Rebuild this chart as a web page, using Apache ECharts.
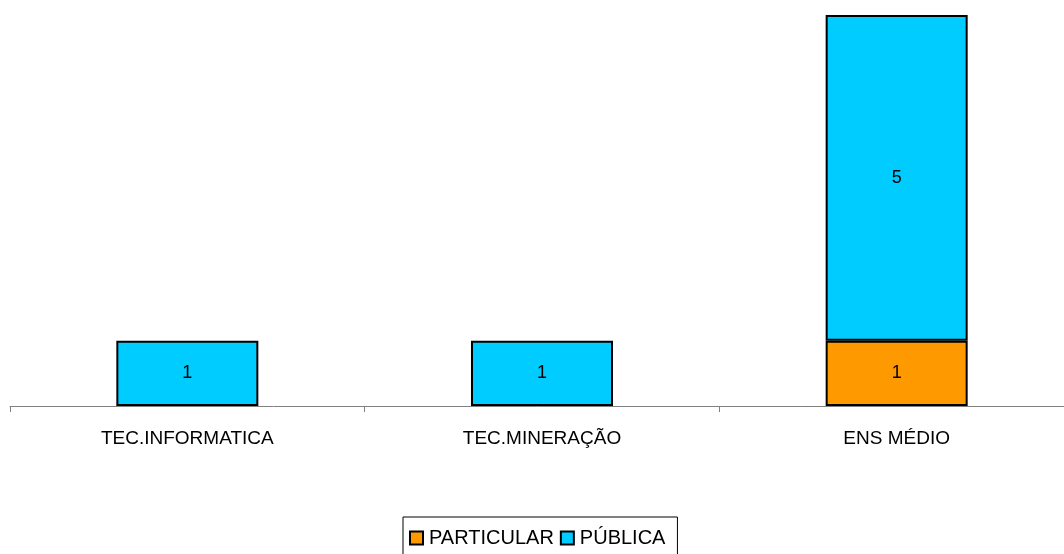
<!DOCTYPE html>
<html>
<head>
<meta charset="utf-8">
<script src="https://cdn.jsdelivr.net/npm/echarts@6/dist/echarts.min.js"></script>
<style>
  html, body { margin: 0; padding: 0; background: #fff; }
  #chart { width: 1064px; height: 554px; }
</style>
</head>
<body>
<div id="chart"></div>
<script>
// dados
const categorias = ["TEC.INFORMATICA", "TEC.MINERAÇÃO", "ENS MÉDIO"];
const particular = [0, 0, 1];
const publica = [1, 1, 5];

let chart = echarts.init(document.getElementById("chart"));

// zero vira '-' para não desenhar a barra
const semZero = (arr) => arr.map((v) => (v === 0 ? "-" : v));

const rotulo = {
  show: true,
  position: "inside",
  color: "#000",
  fontFamily: "Liberation Sans",
  fontSize: 18,
};

let option = {
  animation: false,
  textStyle: { fontFamily: "Liberation Sans" },
  grid: {
    left: 10,
    top: 15,
    right: -10,
    bottom: 148,
    containLabel: false,
    outerBoundsMode: "none",
  },
  legend: {
    data: ["PARTICULAR", "PÚBLICA"],
    left: 403,
    top: 517,
    icon: "rect",
    itemWidth: 13,
    itemHeight: 13,
    itemGap: 6,
    padding: [11, 12, 20, 6],
    borderColor: "#000",
    borderWidth: 1,
    textStyle: {
      color: "#000",
      fontSize: 20,
      fontFamily: "Liberation Sans",
      padding: [0, 0, 0, 1],
    },
  },
  xAxis: {
    type: "category",
    data: categorias,
    axisLine: { lineStyle: { color: "#808080", width: 1 } },
    axisTick: { show: true, length: 6, lineStyle: { color: "#808080" } },
    axisLabel: {
      color: "#000",
      fontSize: 19,
      margin: 23,
      fontFamily: "Liberation Sans",
    },
  },
  yAxis: {
    type: "value",
    min: 0,
    max: 6,
    show: false,
    splitLine: { show: false },
  },
  series: [
    {
      name: "PARTICULAR",
      type: "bar",
      stack: "total",
      barWidth: 142,
      data: semZero(particular),
      itemStyle: { color: "#FF9900", borderColor: "#000", borderWidth: 2 },
      label: rotulo,
    },
    {
      name: "PÚBLICA",
      type: "bar",
      stack: "total",
      barWidth: 142,
      data: semZero(publica),
      itemStyle: { color: "#00CCFF", borderColor: "#000", borderWidth: 2 },
      label: rotulo,
    },
  ],
};

chart.setOption(option);
</script>
</body>
</html>
